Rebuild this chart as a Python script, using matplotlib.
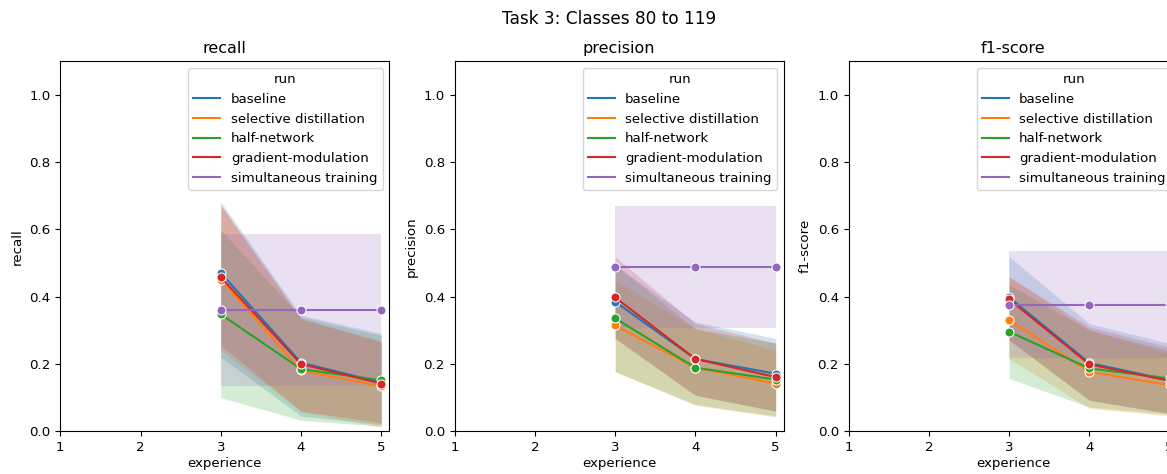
import matplotlib
matplotlib.use("Agg")
import matplotlib.pyplot as plt
import numpy as np

plt.rcParams["font.size"] = 9.6
plt.rcParams["axes.titlesize"] = 11.5

# experiences evaluated and shown on the x axis
experiences = [3, 4, 5]
x_ticks = [1, 2, 3, 4, 5]
y_ticks = [0.0, 0.2, 0.4, 0.6, 0.8, 1.0]

runs = ["baseline", "selective distillation", "half-network",
        "gradient-modulation", "simultaneous training"]
colors = ["#1f77b4", "#ff7f0e", "#2ca02c", "#d62728", "#9467bd"]

metrics = ["recall", "precision", "f1-score"]

# mean values per run (rows follow `runs`)
recall_mean = [[0.471, 0.204, 0.145], [0.451, 0.181, 0.134], [0.348, 0.185, 0.152],
               [0.458, 0.200, 0.142], [0.360, 0.360, 0.360]]
recall_lo = [[0.221, 0.045, 0.020], [0.241, 0.058, 0.012], [0.100, 0.033, 0.015],
             [0.256, 0.060, 0.025], [0.135, 0.135, 0.135]]
recall_hi = [[0.682, 0.345, 0.291], [0.672, 0.335, 0.270], [0.598, 0.340, 0.285],
             [0.672, 0.335, 0.266], [0.587, 0.587, 0.587]]

precision_mean = [[0.385, 0.215, 0.171], [0.315, 0.189, 0.142], [0.336, 0.189, 0.154],
                  [0.398, 0.215, 0.161], [0.487, 0.487, 0.487]]
precision_lo = [[0.276, 0.107, 0.060], [0.177, 0.077, 0.043], [0.177, 0.080, 0.045],
                [0.276, 0.107, 0.060], [0.306, 0.306, 0.306]]
precision_hi = [[0.494, 0.325, 0.276], [0.449, 0.305, 0.241], [0.494, 0.305, 0.262],
                [0.519, 0.320, 0.262], [0.670, 0.670, 0.670]]

f1_mean = [[0.398, 0.203, 0.152], [0.330, 0.177, 0.137], [0.296, 0.187, 0.157],
           [0.392, 0.199, 0.150], [0.376, 0.376, 0.376]]
f1_lo = [[0.271, 0.092, 0.053], [0.216, 0.068, 0.045], [0.157, 0.072, 0.050],
         [0.271, 0.092, 0.053], [0.218, 0.218, 0.218]]
f1_hi = [[0.519, 0.320, 0.261], [0.459, 0.301, 0.231], [0.435, 0.301, 0.240],
         [0.459, 0.310, 0.250], [0.536, 0.536, 0.536]]

panels = [(recall_mean, recall_lo, recall_hi),
          (precision_mean, precision_lo, precision_hi),
          (f1_mean, f1_lo, f1_hi)]

W, H = 1167, 474
fig = plt.figure(figsize=(W / 100, H / 100), dpi=100)

ax_w, ax_h = 329, 370
lefts = [60.3, 454.7, 848.7]
bottom = H - 431.3

for metric, (mean, lo, hi), left in zip(metrics, panels, lefts):
    ax = fig.add_axes([left / W, bottom / H, ax_w / W, ax_h / H])
    handles = []
    for run, c, m, l, h in zip(runs, colors, mean, lo, hi):
        ax.plot(experiences, m, color=c, lw=1.5, marker="o", markersize=6.5,
                markeredgecolor="white", markeredgewidth=0.75, label=run)
        ax.fill_between(experiences, l, h, color=c, alpha=0.2, linewidth=0)
        handles.append(plt.Line2D([], [], color=c, lw=1.5))
    ax.set_xlim(1, 5.1)
    ax.set_ylim(0, 1.1)
    ax.set_xticks(x_ticks)
    ax.set_yticks(y_ticks)
    ax.set_xlabel("experience", labelpad=2.5)
    ax.set_ylabel(metric)
    ax.set_title(metric)
    ax.legend(handles, runs, title="run", loc="upper right")

fig.text(609 / W, 1 - 19 / H, "Task 3: Classes 80 to 119", ha="center", va="center",
         fontsize=12.2)

fig.savefig("out.png", dpi=100)
